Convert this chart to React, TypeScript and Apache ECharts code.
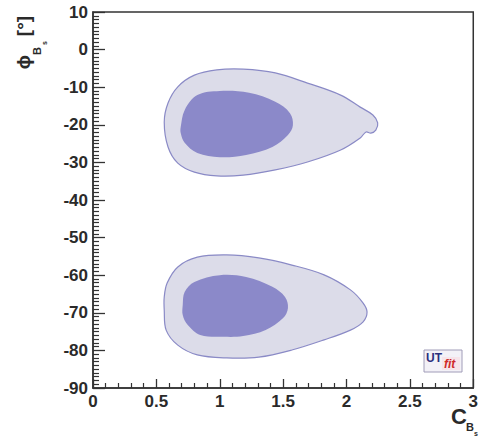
import React, { useEffect, useRef } from "react";
import * as echarts from "echarts";

// Axis ranges / ticks
const xRange = [0, 3];
const yRange = [-90, 10];
const xInterval = 0.5;
const yInterval = 10;

// Contours: [C_Bs, phi_Bs (deg)]
const upperOuter: number[][] = [
  [0.562, -19.3], [0.592, -14.2], [0.669, -9.9], [0.8, -6.8], [0.977, -5.4],
  [1.185, -5.2], [1.438, -6.2], [1.692, -8.9], [1.954, -12.1], [2.108, -15.3],
  [2.208, -17.4], [2.246, -19.5], [2.231, -21.4], [2.192, -22.2], [2.154, -21.9],
  [2.108, -23.5], [1.954, -26.7], [1.692, -29.9], [1.438, -32.0], [1.185, -33.4],
  [0.977, -33.6], [0.8, -32.6], [0.669, -30.2], [0.592, -25.9],
];
const upperInner: number[][] = [
  [0.692, -20.6], [0.723, -16.1], [0.823, -12.1], [1.0, -11.0], [1.231, -11.5],
  [1.438, -13.9], [1.554, -16.9], [1.577, -20.1], [1.538, -22.7], [1.415, -25.9],
  [1.208, -28.0], [1.0, -28.6], [0.823, -27.5], [0.723, -24.8], [0.692, -22.2],
];
const lowerOuter: number[][] = [
  [0.562, -69.3], [0.577, -74.6], [0.669, -78.6], [0.823, -81.2], [1.054, -82.0],
  [1.308, -81.8], [1.569, -79.9], [1.823, -77.2], [2.031, -74.6], [2.131, -72.4],
  [2.162, -69.8], [2.131, -67.4], [2.031, -63.9], [1.823, -59.9], [1.569, -57.3],
  [1.308, -55.4], [1.054, -54.6], [0.823, -55.2], [0.669, -57.8], [0.585, -62.1],
  [0.562, -65.8],
];
const lowerInner: number[][] = [
  [0.708, -67.9], [0.723, -64.5], [0.8, -61.8], [1.0, -60.0], [1.208, -60.5],
  [1.415, -63.1], [1.515, -65.8], [1.538, -68.7], [1.5, -71.4], [1.362, -74.6],
  [1.185, -76.2], [1.031, -76.4], [0.846, -75.9], [0.746, -73.2], [0.708, -70.6],
];

const OUTER_FILL = "#dcdce9";
const OUTER_STROKE = "#8a8ac6";
const INNER_FILL = "#8b89c9";

const makeContour = (pts: number[][], fill: string, stroke: string, lw: number) => ({
  type: "custom",
  coordinateSystem: "cartesian2d",
  data: pts,
  encode: { x: 0, y: 1 },
  clip: false,
  silent: true,
  renderItem: (params: any, api: any) => {
    if (params.dataIndex !== 0) return null;
    const points = pts.map((p) => api.coord(p));
    return {
      type: "polygon",
      shape: { points, smooth: 0.35 },
      style: { fill, stroke, lineWidth: lw },
    };
  },
});

const labelFont = {
  fontFamily: "Liberation Sans, Arial, sans-serif",
  fontWeight: "bold" as const,
  fontSize: 17,
  color: "#2a2a2a",
};

const boldFont = (size: number) => `bold ${size}px "Liberation Sans", Arial, sans-serif`;

const t = (text: string, x: number, y: number, font: string, fill: string, rotation = 0) => ({
  type: "text",
  x,
  y,
  rotation,
  silent: true,
  style: {
    text,
    font,
    fill,
    align: "center",
    verticalAlign: "middle",
    textAlign: "center",
    textVerticalAlign: "middle",
  },
});

export default function App() {
  const ref = useRef<HTMLDivElement>(null);
  useEffect(() => {
    if (!ref.current) return;
    const chart = echarts.init(ref.current, null, { renderer: "svg" });
    const R = Math.PI / 2;
    chart.setOption({
      animation: false,
      backgroundColor: "#ffffff",
      grid: {
        left: 93,
        right: -2,
        top: 12,
        bottom: 53,
        show: true,
        borderColor: "#333",
        borderWidth: 1.5,
        backgroundColor: "transparent",
      },
      xAxis: {
        type: "value",
        min: xRange[0],
        max: xRange[1],
        interval: xInterval,
        axisLine: { show: true, onZero: false, lineStyle: { color: "#333", width: 1.5 } },
        axisTick: { show: true, inside: true, length: 9, lineStyle: { color: "#333", width: 1.3 } },
        minorTick: { show: true, splitNumber: 5, length: 5, lineStyle: { color: "#333", width: 1.2 } },
        splitLine: { show: false },
        axisLabel: {
          ...labelFont,
          margin: 5,
          formatter: (v: number) => String(v),
        },
      },
      yAxis: {
        type: "value",
        min: yRange[0],
        max: yRange[1],
        interval: yInterval,
        axisLine: { show: true, onZero: false, lineStyle: { color: "#333", width: 1.5 } },
        axisTick: { show: true, inside: true, length: 12, lineStyle: { color: "#333", width: 1.3 } },
        minorTick: { show: true, splitNumber: 10, length: 6, lineStyle: { color: "#333", width: 1.2 } },
        splitLine: { show: false },
        axisLabel: { ...labelFont, margin: 5 },
      },
      graphic: [
        // y-axis title: phi_{B_s} [deg]
        t("ϕ", 23, 62, boldFont(19), "#2a2a2a", R),
        t("B", 37, 51, boldFont(11), "#2a2a2a", R),
        t("s", 44, 43, boldFont(7), "#2a2a2a", R),
        t("[°]", 23, 26, boldFont(19), "#2a2a2a", R),
        // x-axis title: C_{B_s}
        t("C", 459, 416, boldFont(22), "#2a2a2a"),
        t("B", 470, 427, boldFont(11), "#2a2a2a"),
        t("s", 476, 433, boldFont(7), "#2a2a2a"),
        // UTfit logo
        {
          type: "rect",
          silent: true,
          shape: { x: 424, y: 350, width: 38, height: 22 },
          style: { fill: "#f3f1f7", stroke: "#a09cb8", lineWidth: 1 },
        },
        {
          type: "rect",
          silent: true,
          shape: { x: 442, y: 357, width: 18, height: 13 },
          style: { fill: "#f6e4ea", stroke: "none" },
        },
        {
          type: "text",
          x: 426,
          y: 358,
          silent: true,
          style: {
            text: "UT",
            font: boldFont(12),
            fill: "#2b2f7e",
            align: "left",
            verticalAlign: "middle",
            textAlign: "left",
            textVerticalAlign: "middle",
          },
        },
        {
          type: "text",
          x: 444,
          y: 364,
          silent: true,
          style: {
            text: "fit",
            font: `italic bold 12px "Liberation Sans", Arial, sans-serif`,
            fill: "#cf2a2a",
            align: "left",
            verticalAlign: "middle",
            textAlign: "left",
            textVerticalAlign: "middle",
          },
        },
      ],
      series: [
        makeContour(upperOuter, OUTER_FILL, OUTER_STROKE, 1.2),
        makeContour(upperInner, INNER_FILL, "none", 0),
        makeContour(lowerOuter, OUTER_FILL, OUTER_STROKE, 1.2),
        makeContour(lowerInner, INNER_FILL, "none", 0),
      ],
    });
    return () => chart.dispose();
  }, []);
  return <div ref={ref} style={{ width: 481, height: 441, position: "absolute", left: 0, top: 0 }} />;
}
